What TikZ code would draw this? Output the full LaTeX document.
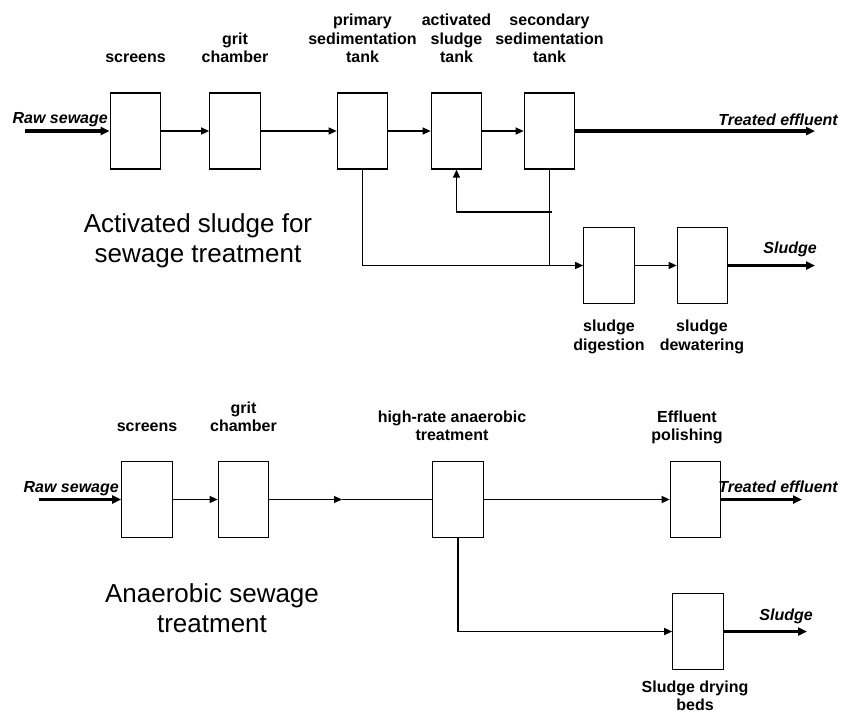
\documentclass[tikz,border=0pt]{standalone}
\usepackage{fontspec}
\setmainfont{Liberation Sans}
\usetikzlibrary{arrows.meta}

\begin{document}
\begin{tikzpicture}[x=1pt,y=-1pt,
  tank/.style={draw,line width=1.2pt,minimum width=50.5pt,minimum height=76pt,inner sep=0pt},
  lbl/.style={align=center,font=\fontsize{16}{18.5}\selectfont\bfseries,inner sep=0pt},
  flow/.style={font=\fontsize{16}{18.5}\selectfont\bfseries\itshape,inner sep=0pt,anchor=base east},
  title/.style={align=center,font=\fontsize{26}{30}\selectfont,inner sep=0pt},
  pipe/.style={line width=1.3pt,-{Triangle[length=8pt,width=7pt]}},
  main/.style={line width=3.5pt,-{Triangle[length=9pt,width=8pt]}}]
\useasboundingbox (0,0) rectangle (844,713);
\node[tank] (scr1) at (135.5,131){};
\node[tank] (grit1) at (235,131){};
\node[tank] (prim) at (362.5,131){};
\node[tank] (act) at (456.5,131){};
\node[tank] (sec) at (549.5,131){};
\node[tank] (dig) at (609,265.5){};
\node[tank] (dew) at (702.5,265.5){};
\node[lbl,anchor=south] (l-scr1) at (135.5,63){screens};
\node[lbl,anchor=south] (l-grit1) at (235,63){grit\\chamber};
\node[lbl,anchor=south] (l-prim) at (362.5,63){primary\\sedimentation\\tank};
\node[lbl,anchor=south] (l-act) at (456.5,63){activated\\sludge\\tank};
\node[lbl,anchor=south] (l-sec) at (549.5,63){secondary\\sedimentation\\tank};
\node[lbl,anchor=north] (l-dig) at (609,320){sludge\\digestion};
\node[lbl,anchor=north] (l-dew) at (702,320){sludge\\dewatering};
\node[title] (t-act) at (198,241){Activated sludge for\\sewage treatment};
\node[flow] (raw1) at (108,123){Raw sewage};
\node[flow] (eff1) at (838,125){Treated effluent};
\node[flow] (sl1) at (817,253){Sludge};
\coordinate (in1) at (25,131);
\coordinate (out1) at (815,131);
\coordinate (out2) at (815,265.5);
\coordinate (rc) at (552,212);
\draw[main] (in1) -- (scr1);
\draw[pipe] (scr1) -- (grit1);
\draw[pipe] (grit1) -- (prim);
\draw[pipe] (prim) -- (act);
\draw[pipe] (act) -- (sec);
\draw[main] (sec) -- (out1);
\draw[pipe] (prim.south) |- (dig.west);
\draw[line width=1.3pt] (sec.south) -- (sec.south |- dig.west);
\draw[pipe] (rc) -| (act.south);
\draw[pipe] (dig) -- (dew);
\draw[main] (dew) -- (out2);
\node[tank] (scr2) at (147,499.5){};
\node[tank] (grit2) at (243.5,499.5){};
\node[tank] (anae) at (458,499.5){};
\node[tank] (pol) at (695.5,499.5){};
\node[tank] (dry) at (698,631.5){};
\node[lbl,anchor=south] (l-scr2) at (147,432){screens};
\node[lbl,anchor=south] (l-grit2) at (243.5,432){grit\\chamber};
\node[lbl,anchor=south] (l-anae) at (452,441){high-rate anaerobic\\treatment};
\node[lbl,anchor=south] (l-pol) at (687,444.5){Effluent\\polishing};
\node[lbl,anchor=north] (l-dry) at (695,680.5){Sludge drying\\beds};
\node[title] (t-anae) at (212,608){Anaerobic sewage\\treatment};
\node[flow] (raw2) at (119,492){Raw sewage};
\node[flow] (eff2) at (838,492){Treated effluent};
\node[flow] (sl2) at (813,620){Sludge};
\coordinate (in2) at (39,499.5);
\coordinate (mid) at (342,499.5);
\coordinate (out3) at (802,499.5);
\coordinate (out4) at (807,631.5);
\draw[main] (in2) -- (scr2);
\draw[pipe] (scr2) -- (grit2);
\draw[pipe] (grit2) -- (mid);
\draw[line width=1.3pt] (mid) -- (anae);
\draw[pipe] (anae) -- (pol);
\draw[main] (pol) -- (out3);
\draw[pipe] (anae.south) |- (dry.west);
\draw[main] (dry) -- (out4);
\end{tikzpicture}
\end{document}
